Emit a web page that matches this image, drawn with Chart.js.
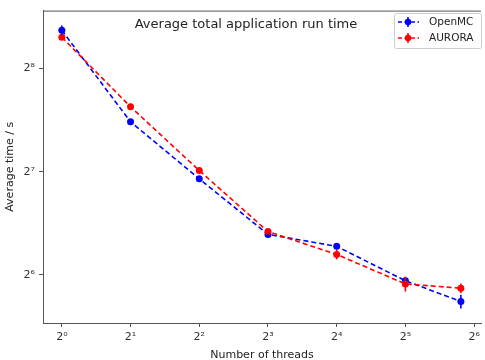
<!DOCTYPE html>
<html>
<head>
<meta charset="utf-8">
<script src="https://cdn.jsdelivr.net/npm/chart.js@4/dist/chart.umd.min.js"></script>
<style>
  html, body { margin: 0; padding: 0; background: #fff; }
  canvas { display: block; }
</style>
</head>
<body>
<canvas id="runTime" width="485" height="360"></canvas>
<script>
// Data
const threads = [1, 2, 4, 8, 16, 32, 56];
const openmcTime = [331, 179, 122, 84, 77.5, 61.5, 53.5];
const auroraTime = [316, 198, 129, 85.6, 73.4, 60.2, 58.5];
const openmcErr = [11, 3, 2, 1.5, 1.5, 1.5, 2.5];
const auroraErr = [6, 4, 2, 1.5, 2.4, 3, 1.9];
const xTicks = [1, 2, 4, 8, 16, 32, 64];
const yTicks = [64, 128, 256];

const FONT = "'DejaVu Sans', sans-serif";
const sup = ["\u2070", "\u00b9", "\u00b2", "\u00b3", "\u2074", "\u2075", "\u2076", "\u2077", "\u2078"];
const powLabel = (v) => "2" + sup[Math.round(Math.log2(v))];

function toPoints(ys) {
  return threads.map((t, i) => ({ x: t, y: ys[i] }));
}

// error bars (vertical, no caps)
const errorBars = {
  id: "errorBars",
  afterDatasetsDraw(chart) {
    const ctx = chart.ctx;
    const errs = [openmcErr, auroraErr];
    const ys = [openmcTime, auroraTime];
    const xs = chart.scales.x, yscale = chart.scales.y;
    [0, 1].forEach((d) => {
      const ds = chart.data.datasets[d];
      ctx.save();
      ctx.strokeStyle = ds.borderColor;
      ctx.lineWidth = 1.6;
      threads.forEach((t, i) => {
        const px = xs.getPixelForValue(t);
        ctx.beginPath();
        ctx.moveTo(px, yscale.getPixelForValue(ys[d][i] - errs[d][i]));
        ctx.lineTo(px, yscale.getPixelForValue(ys[d][i] + errs[d][i]));
        ctx.stroke();
      });
      ctx.restore();
    });
  }
};

// frame, title and legend inside the axes
const decorations = {
  id: "decorations",
  afterDraw(chart) {
    const ctx = chart.ctx;
    const a = chart.chartArea;
    ctx.save();
    ctx.strokeStyle = "#555";
    ctx.lineWidth = 1;
    ctx.beginPath();
    ctx.moveTo(a.left, a.top + 0.5);
    ctx.lineTo(a.right, a.top + 0.5);
    ctx.stroke();

    ctx.fillStyle = "#222";
    ctx.font = "13px " + FONT;
    ctx.textAlign = "center";
    ctx.textBaseline = "middle";
    ctx.fillText("Average total application run time", 246, 25);

    // legend box
    const bx = 394, by = 13, bw = 87, bh = 35;
    ctx.fillStyle = "rgba(255,255,255,0.85)";
    ctx.strokeStyle = "#ccc";
    ctx.beginPath();
    ctx.roundRect(bx + 0.5, by + 0.5, bw, bh, 2);
    ctx.fill();
    ctx.stroke();

    const entries = [
      { label: "OpenMC", color: "#0000ff", y: 22 },
      { label: "AURORA", color: "#ff0000", y: 38 }
    ];
    entries.forEach((e) => {
      ctx.strokeStyle = e.color;
      ctx.fillStyle = e.color;
      ctx.lineWidth = 1.6;
      ctx.setLineDash([4, 2.5]);
      ctx.beginPath();
      ctx.moveTo(398, e.y);
      ctx.lineTo(419, e.y);
      ctx.stroke();
      ctx.setLineDash([]);
      ctx.beginPath();
      ctx.moveTo(408, e.y - 5);
      ctx.lineTo(408, e.y + 5);
      ctx.stroke();
      ctx.beginPath();
      ctx.arc(408, e.y, 3.2, 0, 2 * Math.PI);
      ctx.fill();
      ctx.fillStyle = "#222";
      ctx.font = "10.5px " + FONT;
      ctx.textAlign = "left";
      ctx.fillText(e.label, 429, e.y);
    });
    ctx.restore();
  }
};

const ctx = document.getElementById("runTime").getContext("2d");
new Chart(ctx, {
  type: "line",
  data: {
    datasets: [
      {
        label: "OpenMC",
        data: toPoints(openmcTime),
        borderColor: "#0000ff",
        backgroundColor: "#0000ff",
        borderWidth: 1.6,
        borderDash: [5, 3],
        pointRadius: 3.5,
        pointBorderWidth: 0,
        tension: 0,
        order: 2
      },
      {
        label: "AURORA",
        data: toPoints(auroraTime),
        borderColor: "#ff0000",
        backgroundColor: "#ff0000",
        borderWidth: 1.6,
        borderDash: [5, 3],
        pointRadius: 3.5,
        pointBorderWidth: 0,
        tension: 0,
        order: 1
      }
    ]
  },
  options: {
    responsive: false,
    animation: false,
    layout: { padding: { top: 5, right: 0, left: 0, bottom: 0 } },
    plugins: {
      legend: { display: false },
      tooltip: { enabled: false }
    },
    scales: {
      x: {
        type: "logarithmic",
        min: 0.827,
        max: 68.6,
        afterBuildTicks: (scale) => { scale.ticks = xTicks.map((v) => ({ value: v })); },
        afterFit: (scale) => {
          scale.height = 37;
          scale.paddingLeft = 0;
          scale.paddingRight = 0;
        },
        ticks: {
          autoSkip: false,
          maxRotation: 0,
          padding: 4,
          color: "#333",
          font: { family: FONT, size: 11 },
          callback: (v) => powLabel(v)
        },
        grid: { drawOnChartArea: false, drawTicks: true, tickLength: 4, color: "#555" },
        border: { display: true, color: "#555", width: 1 },
        title: {
          display: true,
          text: "Number of threads",
          color: "#222",
          font: { family: FONT, size: 11 },
          padding: { top: 0, bottom: -2 }
        }
      },
      y: {
        type: "logarithmic",
        min: 46.3,
        max: 378,
        afterBuildTicks: (scale) => { scale.ticks = yTicks.map((v) => ({ value: v })); },
        afterFit: (scale) => { scale.width = 43; },
        ticks: {
          autoSkip: false,
          padding: 4,
          color: "#333",
          font: { family: FONT, size: 11 },
          callback: (v) => powLabel(v)
        },
        grid: { drawOnChartArea: false, drawTicks: true, tickLength: 4, color: "#555" },
        border: { display: true, color: "#555", width: 1 },
        title: {
          display: true,
          text: "Average time / s",
          color: "#222",
          font: { family: FONT, size: 11 },
          padding: { top: 4, bottom: 0 }
        }
      }
    }
  },
  plugins: [errorBars, decorations]
});
</script>
</body>
</html>
